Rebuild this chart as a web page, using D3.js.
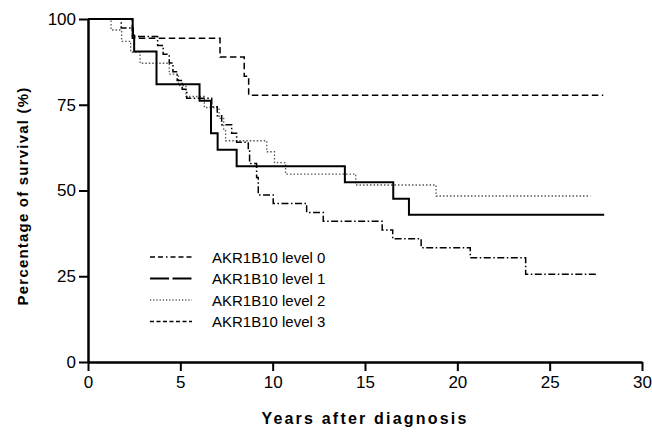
<!DOCTYPE html>
<html>
<head>
<meta charset="utf-8">
<script src="https://cdnjs.cloudflare.com/ajax/libs/d3/7.8.5/d3.min.js"></script>
<style>
  body { margin: 0; background: #fff; }
  svg text { font-family: "Liberation Sans", Arial, sans-serif; fill: #000; }
</style>
</head>
<body>
<svg id="chart" width="652" height="436"></svg>
<script>
// Kaplan-Meier steps: [years, % surviving after the step]
var level0 = [[0,100],[1.8,97.4],[2.45,94.9],[3.77,92.3],[4.07,89.7],[4.4,87.2],[4.6,84.6],[4.83,82.1],[5.1,79.5],[5.35,76.9],
              [6.7,74.4],[7.0,71.8],[7.24,69.2],[7.78,66.7],[8.05,64.1],[8.68,61.5],[8.75,57.9],[9.13,53.8],[9.22,48.7],
              [10.03,46.2],[11.84,43.6],[12.74,41.0],[15.93,38.5],[16.5,35.9],[18.04,33.3],[20.7,30.4],[23.7,25.6],[27.6,25.6]];
var level1 = [[0,100],[2.42,95.2],[2.5,90.5],[3.71,81.0],[6.04,76.2],[6.66,66.7],[7.02,61.9],[8.05,57.1],
              [13.91,52.4],[16.53,47.6],[17.38,42.9],[27.95,42.9]];
var level2 = [[0,100],[1.25,96.8],[1.82,93.5],[2.31,90.3],[2.82,87.1],[4.4,83.9],[4.9,80.6],[5.3,77.4],[6.3,74.2],
              [7.1,71.0],[7.35,67.7],[7.45,64.5],[9.68,61.3],[10.1,58.1],[10.7,54.8],[14.5,51.6],[18.85,48.4],[27.2,48.4]];
var level3 = [[0,100],[2.4,94.4],[7.15,88.9],[8.46,83.3],[8.7,77.8],[27.9,77.8]];

var seriesNames = ["AKR1B10 level 0", "AKR1B10 level 1", "AKR1B10 level 2", "AKR1B10 level 3"];
var xTicks = [0, 5, 10, 15, 20, 25, 30];
var yTicks = [0, 25, 50, 75, 100];

var svg = d3.select("#chart");
var x = d3.scaleLinear().domain([0, 30]).range([88, 642]);
var y = d3.scaleLinear().domain([0, 100]).range([362, 19]);

var styles = [
  { dash: "7,2.5,1.5,2.5", width: 1.5, color: "#000", legendDash: "5,3,5,3,1.5,3,5,3" },
  { dash: null, width: 2, color: "#000", legendDash: "19,3.5" },
  { dash: "1.5,2", width: 1.3, color: "#555", legendDash: "1.2,2" },
  { dash: "6.5,3.5", width: 1.5, color: "#000", legendDash: "4,2.5" }
];

var line = d3.line()
    .x(function(d) { return x(d[0]); })
    .y(function(d) { return y(d[1]); })
    .curve(d3.curveStepAfter);

// draw order so the solid line sits on top
var order = [3, 2, 0, 1];
var allSeries = [level0, level1, level2, level3];
order.forEach(function(i) {
  svg.append("path")
    .datum(allSeries[i])
    .attr("d", line)
    .attr("fill", "none")
    .attr("stroke", styles[i].color)
    .attr("stroke-width", styles[i].width)
    .attr("stroke-dasharray", styles[i].dash);
});

// axes
var xAxis = svg.append("g")
    .attr("transform", "translate(0," + y(0) + ")")
    .call(d3.axisBottom(x).tickValues(xTicks).tickSize(9).tickSizeOuter(0).tickPadding(5));
var yAxis = svg.append("g")
    .attr("transform", "translate(" + x(0) + ",0)")
    .call(d3.axisLeft(y).tickValues(yTicks).tickSize(9).tickSizeOuter(0).tickPadding(3));

[xAxis, yAxis].forEach(function(a) {
  a.select(".domain").attr("stroke", "#000").attr("stroke-width", 2.5);
  a.selectAll(".tick line").attr("stroke", "#000").attr("stroke-width", 2);
  a.selectAll(".tick text").attr("font-size", 17).attr("fill", "#000");
});

svg.append("text")
    .attr("x", 365).attr("y", 424)
    .attr("text-anchor", "middle")
    .attr("font-size", 16).attr("font-weight", "bold")
    .attr("letter-spacing", 2.2)
    .text("Years after diagnosis");

svg.append("text")
    .attr("transform", "translate(28,196) rotate(-90)")
    .attr("text-anchor", "middle")
    .attr("font-size", 15).attr("font-weight", "bold")
    .attr("letter-spacing", 1.2)
    .text("Percentage of survival (%)");

// legend
var legend = svg.append("g").selectAll("g")
    .data(seriesNames)
    .enter().append("g")
    .attr("transform", function(d, i) { return "translate(150," + (257 + i * 21.5) + ")"; });

legend.append("line")
    .attr("x1", 0).attr("x2", 42)
    .attr("stroke", function(d, i) { return styles[i].color; })
    .attr("stroke-width", function(d, i) { return styles[i].width; })
    .attr("stroke-dasharray", function(d, i) { return styles[i].legendDash; });

legend.append("text")
    .attr("x", 62).attr("y", 5.5)
    .attr("font-size", 15)
    .text(function(d) { return d; });
</script>
</body>
</html>
